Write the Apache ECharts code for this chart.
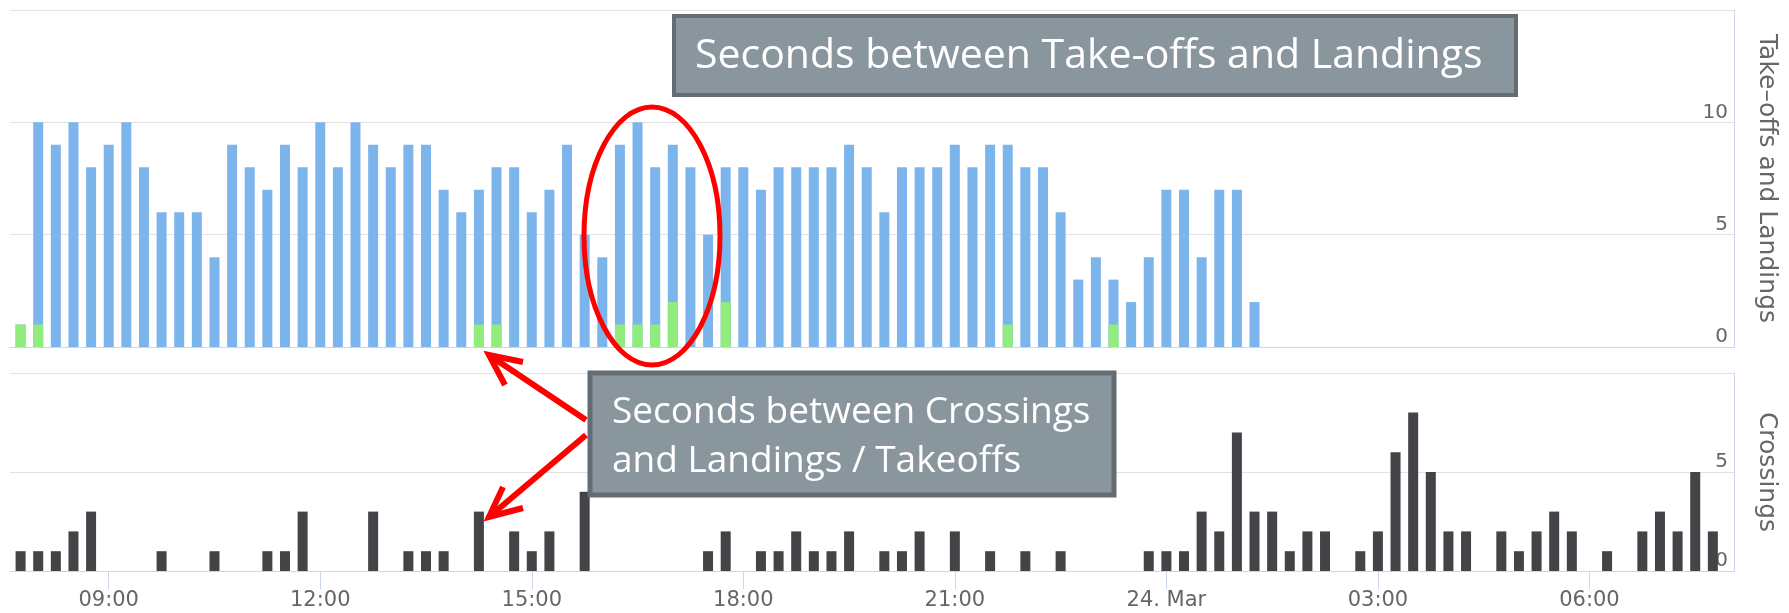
<!DOCTYPE html>
<html>
<head>
<meta charset="utf-8">
<script src="https://cdn.jsdelivr.net/npm/echarts@6/dist/echarts.min.js"></script>
<style>
  html, body { margin: 0; padding: 0; background: #fff; }
  #chart { width: 1789px; height: 613px; }
</style>
</head>
<body>
<div id="chart"></div>
<script>
// 15-minute slots starting 23 Mar 07:45 (hours since 23 Mar 00:00)
const startHour = 7.75;
const stepHour = 0.25;

// Take-offs and Landings: total column height (blue) and the green part at its base
const totalVals = [
  1,10,9,10,8,9,10,8,6,6,
  6,4,9,8,7,9,8,10,8,10,
  9,8,9,9,7,6,7,8,8,6,
  7,9,5,4,9,10,8,9,8,5,
  8,8,7,8,8,8,8,9,8,6,
  8,8,8,9,8,9,9,8,8,6,
  3,4,3,2,4,7,7,4,7,7,2
];
const greenVals = [
  1,1,0,0,0,0,0,0,0,0,
  0,0,0,0,0,0,0,0,0,0,
  0,0,0,0,0,0,1,1,0,0,
  0,0,0,0,1,1,1,2,0,0,
  2,0,0,0,0,0,0,0,0,0,
  0,0,0,0,0,0,1,0,0,0,
  0,0,1,0,0,0,0,0,0,0,0
];
// Crossings (0 = no bar)
const crossingVals = [
  1,1,1,2,3,0,0,0,1,0,
  0,1,0,0,1,1,3,0,0,0,
  3,0,1,1,1,0,3,0,2,1,
  2,0,4,0,0,0,0,0,0,1,
  2,0,1,1,2,1,1,2,0,1,
  1,2,0,2,0,1,0,1,0,1,
  0,0,0,0,1,1,1,3,2,7,
  3,3,1,2,2,0,1,2,6,8,
  5,2,2,0,2,1,2,3,2,0,
  1,0,2,3,2,5,2
];
const tickHours = [9, 12, 15, 18, 21, 24, 27, 30];

const xAt = i => startHour + i * stepHour;
const pad = n => (n < 10 ? '0' : '') + n;
const fmtHour = v => {
  const h = Math.round(v) % 24;
  return h === 0 ? '24. Mar' : pad(h) + ':00';
};

const axisFont = { fontFamily: 'DejaVu Sans', color: '#666666' };
const xMin = 7.6, xMax = 32.05;

const chart = echarts.init(document.getElementById('chart'), null, { renderer: 'canvas' });

const option = {
  animation: false,
  backgroundColor: '#ffffff',
  grid: [
    { left: 10, right: 55, top: 10, height: 337 },
    { left: 10, right: 55, top: 373, height: 198 }
  ],
  xAxis: [
    {
      type: 'value', gridIndex: 0, min: xMin, max: xMax,
      axisLine: { show: true, onZero: false, lineStyle: { color: '#ccd6eb', width: 1 } },
      axisTick: { show: false }, axisLabel: { show: false }, splitLine: { show: false }
    },
    {
      type: 'value', gridIndex: 1, min: xMin, max: xMax,
      axisLine: { show: true, onZero: false, lineStyle: { color: '#ccd6eb', width: 1 } },
      axisTick: { show: true, length: 18, customValues: tickHours, lineStyle: { color: '#ccd6eb', width: 1 } },
      axisLabel: Object.assign({ customValues: tickHours, fontSize: 21, margin: 19, formatter: fmtHour }, axisFont),
      splitLine: { show: false }
    }
  ],
  yAxis: [
    {
      type: 'value', gridIndex: 0, position: 'right', min: 0, max: 15, interval: 5,
      axisLine: { show: true, lineStyle: { color: '#ccd6eb', width: 1 } },
      axisTick: { show: false },
      splitLine: { show: true, lineStyle: { color: '#e2e2e2', width: 1 } },
      axisLabel: Object.assign({ inside: true, margin: 6, fontSize: 20, verticalAlign: 'bottom',
        formatter: v => (v === 15 ? '' : String(v)) }, axisFont),
      name: 'Take\u2013offs and Landings', nameLocation: 'middle', nameRotate: -90, nameGap: 20,
      nameTextStyle: Object.assign({ fontSize: 25 }, axisFont)
    },
    {
      type: 'value', gridIndex: 1, position: 'right', min: 0, max: 10, interval: 5,
      axisLine: { show: true, lineStyle: { color: '#ccd6eb', width: 1 } },
      axisTick: { show: false },
      splitLine: { show: true, lineStyle: { color: '#e2e2e2', width: 1 } },
      axisLabel: Object.assign({ inside: true, margin: 6, fontSize: 20, verticalAlign: 'bottom',
        formatter: v => (v === 10 ? '' : String(v)) }, axisFont),
      name: 'Crossings', nameLocation: 'middle', nameRotate: -90, nameGap: 20,
      nameTextStyle: Object.assign({ fontSize: 25 }, axisFont)
    }
  ],
  series: [
    {
      name: 'Take-offs and Landings', type: 'bar', xAxisIndex: 0, yAxisIndex: 0, barWidth: 10, barGap: '-100%',
      itemStyle: { color: '#7cb5ec' },
      data: totalVals.map((v, i) => [xAt(i), v])
    },
    {
      name: 'Green', type: 'bar', xAxisIndex: 0, yAxisIndex: 0, barWidth: 10, barGap: '-100%', z: 3,
      itemStyle: { color: '#90ed7d' },
      data: greenVals.map((v, i) => [xAt(i), v]).filter(d => d[1] > 0)
    },
    {
      name: 'Crossings', type: 'bar', xAxisIndex: 1, yAxisIndex: 1, barWidth: 10,
      itemStyle: { color: '#434348' },
      data: crossingVals.map((v, i) => [xAt(i), v]).filter(d => d[1] > 0)
    }
  ],
  graphic: [
    {
      type: 'rect', z: 100,
      shape: { x: 674, y: 16, width: 842, height: 79 },
      style: { fill: '#8a969e', stroke: '#646d74', lineWidth: 4 }
    },
    {
      type: 'text', z: 101, x: 695, y: 56,
      style: { text: 'Seconds between Take-offs and Landings', fill: '#ffffff',
        font: '41px "Open Sans"', textVerticalAlign: 'middle', verticalAlign: 'middle' }
    },
    {
      type: 'rect', z: 100,
      shape: { x: 590, y: 373, width: 524, height: 122 },
      style: { fill: '#8a969e', stroke: '#646d74', lineWidth: 5 }
    },
    {
      type: 'text', z: 101, x: 612, y: 412,
      style: { text: 'Seconds between Crossings', fill: '#ffffff',
        font: '37px "Open Sans"', textVerticalAlign: 'middle', verticalAlign: 'middle' }
    },
    {
      type: 'text', z: 101, x: 612, y: 461,
      style: { text: 'and Landings / Takeoffs', fill: '#ffffff',
        font: '37px "Open Sans"', textVerticalAlign: 'middle', verticalAlign: 'middle' }
    },
    {
      type: 'ellipse', z: 102,
      shape: { cx: 652, cy: 236, rx: 68, ry: 129 },
      style: { fill: 'none', stroke: '#ff0000', lineWidth: 5 }
    },
    {
      type: 'polyline', z: 102,
      shape: { points: [[586, 420], [489, 355]] },
      style: { stroke: '#ff0000', lineWidth: 6, fill: 'none' }
    },
    {
      type: 'polyline', z: 102,
      shape: { points: [[523, 362], [489, 355], [505, 385]] },
      style: { stroke: '#ff0000', lineWidth: 6, fill: 'none', lineJoin: 'miter' }
    },
    {
      type: 'polyline', z: 102,
      shape: { points: [[586, 435], [489, 517]] },
      style: { stroke: '#ff0000', lineWidth: 6, fill: 'none' }
    },
    {
      type: 'polyline', z: 102,
      shape: { points: [[503, 487], [489, 517], [523, 508]] },
      style: { stroke: '#ff0000', lineWidth: 6, fill: 'none', lineJoin: 'miter' }
    }
  ]
};
chart.setOption(option);
</script>
</body>
</html>
